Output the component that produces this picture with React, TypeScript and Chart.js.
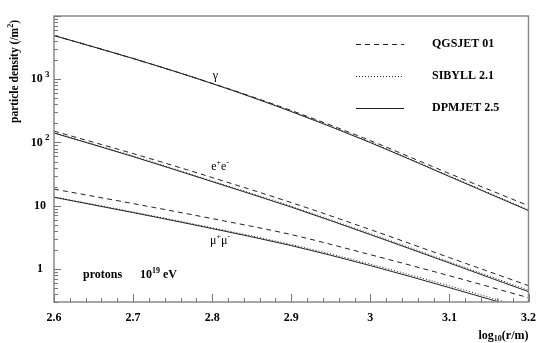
import React, { useEffect, useRef } from "react";
import { Chart, registerables } from "chart.js";

Chart.register(...registerables);

const xValues = [2.6, 2.7, 2.8, 2.9, 3.0, 3.1, 3.2];
const xTickLabels = ["2.6", "2.7", "2.8", "2.9", "3", "3.1", "3.2"];
const yTickValues = [1, 10, 100, 1000];
const yTickBase = ["1", "10", "10", "10"];
const yTickExp = ["", "", "2", "3"];

const gammaQGS = [4910, 2127, 860, 320, 107, 32.2, 10.0];
const gammaSIB = [4910, 2127, 858, 313, 101.5, 29.6, 8.6];
const gammaDPM = [4910, 2127, 855, 308, 99.6, 28.9, 8.37];
const eeQGS = [151, 66.7, 27.9, 11.2, 4.19, 1.51, 0.545];
const eeSIB = [143, 61, 24.6, 9.8, 3.62, 1.3, 0.46];
const eeDPM = [141, 59.8, 24.0, 9.5, 3.49, 1.24, 0.437];
const muQGS = [18.3, 10.8, 6.25, 3.49, 1.68, 0.78, 0.351];
const muSIB = [13.8, 7.95, 4.48, 2.43, 1.19, 0.54, 0.235];
const muDPM = [13.6, 7.78, 4.35, 2.34, 1.13, 0.506, 0.219];

const legendNames = ["QGSJET 01", "SIBYLL 2.1", "DPMJET 2.5"];
const DASH = [5, 4];
const DOT = [1, 2];
const LINE = "#222";
const SERIF = '"Liberation Serif", "Times New Roman", serif';

function pts(ys: number[]) {
  return xValues.map((x, i) => ({ x, y: ys[i] }));
}

function ds(label: string, ys: number[], dash: number[]) {
  return {
    label,
    data: pts(ys),
    borderColor: LINE,
    borderWidth: 1,
    borderDash: dash,
    pointRadius: 0,
    fill: false,
    cubicInterpolationMode: "monotone" as const,
  };
}

function textWithScript(
  ctx: CanvasRenderingContext2D,
  parts: { t: string; dy: number; font: string }[],
  x: number,
  y: number,
  align: "left" | "center" | "right"
) {
  let total = 0;
  const widths = parts.map((p) => {
    ctx.font = p.font;
    const w = ctx.measureText(p.t).width;
    total += w;
    return w;
  });
  let cx = align === "left" ? x : align === "center" ? x - total / 2 : x - total;
  ctx.textAlign = "left";
  ctx.textBaseline = "middle";
  parts.forEach((p, i) => {
    ctx.font = p.font;
    ctx.fillText(p.t, cx, y + p.dy);
    cx += widths[i];
  });
}

const decorPlugin = {
  id: "decor",
  afterDraw(chart: any) {
    const ctx: CanvasRenderingContext2D = chart.ctx;
    const a = chart.chartArea;
    const xs = chart.scales.x;
    const ys = chart.scales.y;
    ctx.save();
    // frame
    ctx.strokeStyle = "#8a8a8a";
    ctx.lineWidth = 1.5;
    ctx.strokeRect(a.left, a.top, a.right - a.left, a.bottom - a.top);
    // x ticks
    ctx.strokeStyle = "#777";
    ctx.lineWidth = 1;
    for (let i = 0; i <= 30; i++) {
      const v = 2.6 + i * 0.02;
      const px = Math.round(xs.getPixelForValue(v)) + 0.5;
      const len = i % 5 === 0 ? 8 : 4;
      ctx.beginPath();
      ctx.moveTo(px, a.bottom);
      ctx.lineTo(px, a.bottom - len);
      ctx.stroke();
    }
    // y ticks
    for (let e = -1; e <= 4; e++) {
      for (let m = 1; m <= 9; m++) {
        const v = m * Math.pow(10, e);
        if (v < 0.3 - 1e-9 || v > 10000 + 1e-6) continue;
        const py = Math.round(ys.getPixelForValue(v)) + 0.5;
        const len = m === 1 ? 7 : 4;
        ctx.beginPath();
        ctx.moveTo(a.left, py);
        ctx.lineTo(a.left + len, py);
        ctx.stroke();
      }
    }
    ctx.fillStyle = "#000";
    // y labels
    yTickValues.forEach((v, i) => {
      const py = ys.getPixelForValue(v);
      const parts = [{ t: yTickBase[i], dy: 0, font: `bold 12px ${SERIF}` }];
      if (yTickExp[i]) parts.push({ t: " " + yTickExp[i], dy: -5, font: `bold 9px ${SERIF}` });
      textWithScript(ctx, parts, 40, py, "center");
    });
    // y title
    ctx.save();
    ctx.translate(15, a.top + 4);
    ctx.rotate(-Math.PI / 2);
    textWithScript(
      ctx,
      [
        { t: "particle density (/m", dy: 0, font: `bold 11.5px ${SERIF}` },
        { t: "2", dy: -4, font: `bold 8px ${SERIF}` },
        { t: ")", dy: 0, font: `bold 11.5px ${SERIF}` },
      ],
      0,
      0,
      "right"
    );
    ctx.restore();
    // x title
    textWithScript(
      ctx,
      [
        { t: "log", dy: 0, font: `bold 12px ${SERIF}` },
        { t: "10", dy: 3, font: `bold 8px ${SERIF}` },
        { t: "(r/m)", dy: 0, font: `bold 12px ${SERIF}` },
      ],
      a.right,
      336,
      "right"
    );
    // legend
    const legY = [44, 76, 108];
    const dashes = [DASH, DOT, []];
    legendNames.forEach((n, i) => {
      ctx.strokeStyle = LINE;
      ctx.lineWidth = 1;
      ctx.setLineDash(dashes[i]);
      ctx.beginPath();
      ctx.moveTo(356, legY[i] + 0.5);
      ctx.lineTo(404, legY[i] + 0.5);
      ctx.stroke();
      ctx.setLineDash([]);
      ctx.font = `bold 12px ${SERIF}`;
      ctx.textAlign = "left";
      ctx.textBaseline = "middle";
      ctx.fillText(n, 432, legY[i]);
    });
    // curve labels
    const reg = `12px ${SERIF}`;
    const sm = `8px ${SERIF}`;
    textWithScript(ctx, [{ t: "γ", dy: 0, font: reg }], xs.getPixelForValue(2.804), 76, "center");
    textWithScript(
      ctx,
      [
        { t: "e", dy: 0, font: reg },
        { t: "+", dy: -4, font: sm },
        { t: "e", dy: 0, font: reg },
        { t: "-", dy: -4, font: sm },
      ],
      xs.getPixelForValue(2.81),
      167,
      "center"
    );
    textWithScript(
      ctx,
      [
        { t: "μ", dy: 0, font: reg },
        { t: "+", dy: -4, font: sm },
        { t: "μ", dy: 0, font: reg },
        { t: "-", dy: -4, font: sm },
      ],
      xs.getPixelForValue(2.81),
      241,
      "center"
    );
    textWithScript(ctx, [{ t: "protons", dy: 0, font: `bold 12px ${SERIF}` }], 83, 275, "left");
    textWithScript(
      ctx,
      [
        { t: "10", dy: 0, font: `bold 12px ${SERIF}` },
        { t: "19", dy: -4, font: `bold 8px ${SERIF}` },
        { t: " eV", dy: 0, font: `bold 12px ${SERIF}` },
      ],
      140,
      275,
      "left"
    );
    ctx.restore();
  },
};

export default function App() {
  const ref = useRef<HTMLCanvasElement>(null);
  useEffect(() => {
    if (!ref.current) return;
    const chart = new Chart(ref.current, {
      type: "line",
      data: {
        datasets: [
          ds("QGSJET 01 γ", gammaQGS, DASH),
          ds("SIBYLL 2.1 γ", gammaSIB, DOT),
          ds("DPMJET 2.5 γ", gammaDPM, []),
          ds("QGSJET 01 e", eeQGS, DASH),
          ds("SIBYLL 2.1 e", eeSIB, DOT),
          ds("DPMJET 2.5 e", eeDPM, []),
          ds("QGSJET 01 μ", muQGS, DASH),
          ds("SIBYLL 2.1 μ", muSIB, DOT),
          ds("DPMJET 2.5 μ", muDPM, []),
        ],
      },
      options: {
        animation: false,
        responsive: false,
        layout: { padding: { top: 16, right: 14, left: 0, bottom: 0 } },
        plugins: { legend: { display: false }, tooltip: { enabled: false } },
        scales: {
          x: {
            type: "linear",
            min: 2.6,
            max: 3.2,
            grid: { display: false, drawTicks: false },
            border: { display: false },
            afterFit: (s: any) => {
              s.height = 41;
            },
            ticks: {
              stepSize: 0.1,
              autoSkip: false,
              maxRotation: 0,
              padding: 9,
              color: "#000",
              font: { family: SERIF, weight: "bold", size: 12 },
              callback: (v: any) => {
                const i = Math.round((Number(v) - 2.6) * 10);
                return xTickLabels[i] ?? "";
              },
            },
          },
          y: {
            type: "logarithmic",
            min: 0.3,
            max: 10000,
            grid: { display: false, drawTicks: false },
            border: { display: false },
            ticks: { display: false },
            afterFit: (s: any) => {
              s.width = 54;
            },
          },
        },
      },
      plugins: [decorPlugin],
    });
    return () => chart.destroy();
  }, []);
  return (
    <div style={{ position: "absolute", left: 0, top: 0, width: 545, height: 343, background: "#fff" }}>
      <canvas ref={ref} width={545} height={343} style={{ display: "block" }} />
    </div>
  );
}
